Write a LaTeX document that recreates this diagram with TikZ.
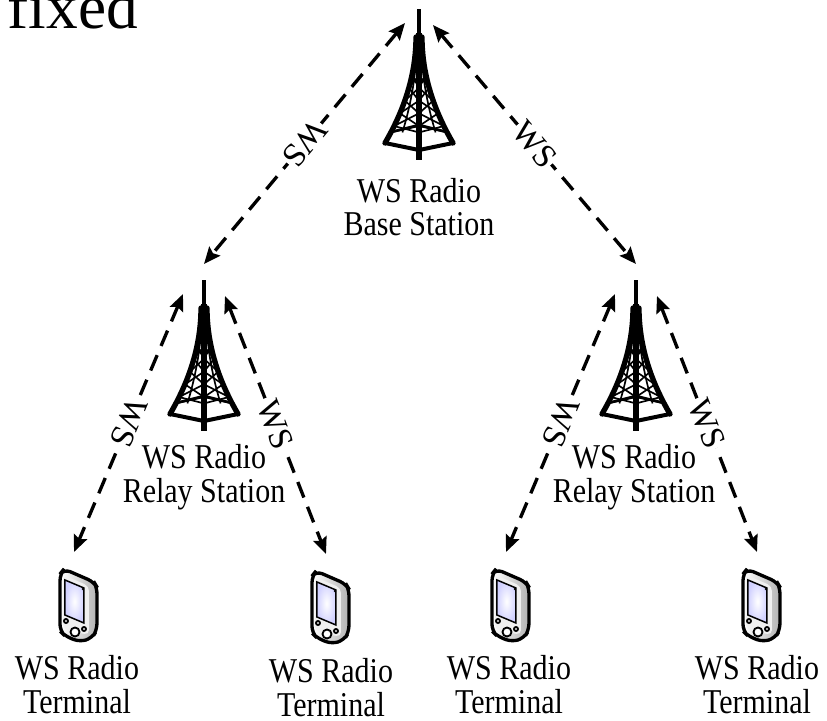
\documentclass[tikz,border=0pt]{standalone}
\usepackage{fontspec}
\setmainfont{Liberation Serif}
\usepackage{graphicx}
\usetikzlibrary{arrows.meta}

\newcommand{\tallbox}[1]{\scalebox{1}[1.16]{\begin{tabular}[t]{@{}c@{}}#1\end{tabular}}}

\tikzset{
	link/.style={line width=1pt,dash pattern=on 5pt off 3pt,>={Stealth[length=5pt,width=4.2pt,inset=0.8pt]},<->},
	wslabel/.style={midway,sloped,allow upside down,fill=white,inner sep=0.3pt,font=\fontsize{10}{10}\selectfont},
	devtext/.style={anchor=base,inner sep=0pt,font=\fontsize{9}{8.7}\selectfont},
	tower/.pic={
		\draw[line width=1.1pt] (0,0) -- (0,27);
		\draw[line width=1.9pt] (0,24) -- (0,151);
		\draw[line width=1.6pt,line cap=round] plot[domain=0:1,samples=20] ({-3-31*\x*\x},{28+106*\x});
		\draw[line width=1.6pt,line cap=round] plot[domain=0:1,samples=20] ({3+31*\x*\x},{28+106*\x});
		\draw[line width=0.5pt] plot[domain=0:0.9,samples=20] ({-2-18*\x*\x},{28+106*\x});
		\draw[line width=0.5pt] plot[domain=0:0.9,samples=20] ({2+18*\x*\x},{28+106*\x});
		\foreach \sa/\sb in {0/0.12,0.12/0.24,0.24/0.36,0.36/0.48,0.48/0.6,0.6/0.72,0.72/0.84,0.84/0.9}{
			\draw[line width=0.5pt] ({-3-31*\sa*\sa},{28+106*\sa}) -- (0,{28+106*\sb}) (0,{28+106*\sa}) -- ({-3-31*\sb*\sb},{28+106*\sb});
			\draw[line width=0.5pt] ({3+31*\sa*\sa},{28+106*\sa}) -- (0,{28+106*\sb}) (0,{28+106*\sa}) -- ({3+31*\sb*\sb},{28+106*\sb});
		}
		\draw[line width=0.8pt] (-28,123) -- (0,116) -- (28,123);
		\draw[line width=1.2pt,line cap=round] (-34,134) -- (0,141) -- (34,134);
		\coordinate (-top) at (0,-16);
		\coordinate (-l) at (-#1,14);
		\coordinate (-r) at (#1,16);
	},
	phone/.pic={
		\draw[line width=1pt,rounded corners=2pt,left color=white,right color=gray!60] (-18,-31) -- (-14,-36) -- (16,-23) -- (19,-18) -- (19,25) -- (14,33) -- (2,37) -- (-13,31) -- (-18,26) -- cycle;
		\fill[gray!12,rounded corners=1.5pt] (-15,-30) -- (11,-19) -- (11,30) -- (-15,24) -- cycle;
		\draw[line width=0.45pt,inner color=white,outer color=blue!18] (-13,-25) -- (6,-17) -- (6,18) -- (-13,10) -- cycle;
		\fill (5,-16) circle (1.3);
		\draw[line width=0.55pt,fill=white] (-3,27) circle (4.5);
		\draw[line width=0.55pt,fill=white] (-12,16) circle (2) (6,24) circle (2);
		\coordinate (-top) at (-4,-53);
	}
}

\begin{document}
\begin{tikzpicture}[x=0.3pt,y=-0.3pt]
	\useasboundingbox (0,0) rectangle (827,720);
	\clip (0,0) rectangle (827,720);
	\node[anchor=base west,inner sep=0pt,font=\fontsize{19}{19}\selectfont] (fixed) at (7,28) {fixed};
	\pic (base) at (419,9) {tower=14};
	\pic (relayL) at (204,280) {tower=21};
	\pic (relayR) at (636,280) {tower=21};
	\pic (term1) at (78,605) {phone};
	\pic (term2) at (330,607) {phone};
	\pic (term3) at (510,605) {phone};
	\pic (term4) at (761,605) {phone};
	\node[devtext] (base-txt) at (419,202) {\tallbox{WS Radio\\Base Station}};
	\node[devtext] (relayL-txt) at (204,468) {\tallbox{WS Radio\\Relay Station}};
	\node[devtext] (relayR-txt) at (634,468) {\tallbox{WS Radio\\Relay Station}};
	\node[devtext] (term1-txt) at (77,679) {\tallbox{WS Radio\\Terminal}};
	\node[devtext] (term2-txt) at (331,682) {\tallbox{WS Radio\\Terminal}};
	\node[devtext] (term3-txt) at (509,679) {\tallbox{WS Radio\\Terminal}};
	\node[devtext] (term4-txt) at (757,679) {\tallbox{WS Radio\\Terminal}};
	\draw[link] (base-l) -- node[wslabel] {WS} (relayL-top);
	\draw[link] (base-r) -- node[wslabel] {WS} (relayR-top);
	\draw[link] (relayL-l) -- node[wslabel] {WS} (term1-top);
	\draw[link] (relayL-r) -- node[wslabel] {WS} (term2-top);
	\draw[link] (relayR-l) -- node[wslabel] {WS} (term3-top);
	\draw[link] (relayR-r) -- node[wslabel] {WS} (term4-top);
\end{tikzpicture}
\end{document}
